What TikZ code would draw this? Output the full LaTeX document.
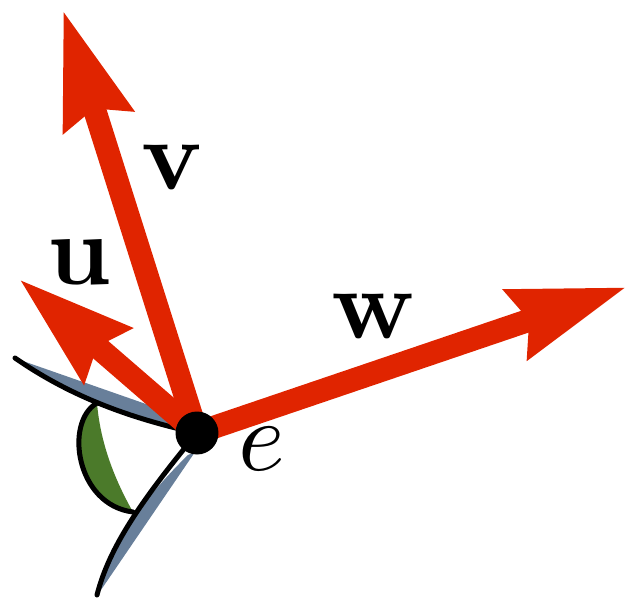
\documentclass[tikz,border=0pt]{standalone}
\usepackage{tikz}
\usetikzlibrary{arrows.meta}
\definecolor{vecred}{HTML}{E02400}
\definecolor{slate}{HTML}{687F9A}
\definecolor{leaf}{HTML}{4B7A2A}

\begin{document}
\begin{tikzpicture}[x=0.1pt,y=-0.1pt,
  vec/.style={draw=vecred,line width=2.3pt,-{Stealth[length=11.5pt,width=7pt,inset=1.2pt]}},
  rim/.style={draw=black,line width=0.5pt,line cap=round},
  dot/.style={circle,fill=black,inner sep=0pt,minimum size=4.3pt},
  lbl/.style={font=\normalsize,inner sep=1pt}]
\useasboundingbox (0,0) rectangle (627,599);
% vertex and vector ends
\coordinate (e) at (197,433);
\coordinate (vtip) at (63,10);
\coordinate (utip) at (19,279);
\coordinate (wtip) at (627,287);
% the two sheets meeting at e
\coordinate (sa) at (15,358);
\coordinate (sb) at (97,595);
\fill[slate] (sa) .. controls (67,394) and (124,417) .. (190,428) -- (186,418) -- (20,360) -- cycle;
\draw[rim] (sa) .. controls (67,394) and (124,417) .. (e);
\fill[slate] (sb) .. controls (109,548) and (140,502) .. (188,455) -- (195,452) -- (103,587) -- cycle;
\draw[rim] (sb) .. controls (109,548) and (140,502) .. (e);
% angle between the sheets
\coordinate (ga) at (97,403);
\coordinate (gb) at (133,512);
\fill[leaf] (ga) .. controls (64,422) and (76,505) .. (gb) .. controls (112,475) and (100,439) .. (ga);
\draw[rim] (ga) .. controls (64,422) and (76,505) .. (gb);
% vectors
\draw[vec] (e) -- (vtip);
\draw[vec] (e) -- (utip);
\draw[vec] (e) -- (wtip);
\node[dot] (edot) at (e) {};
% labels
\node[lbl] (vlab) at (173,167) {$\mathbf{v}$};
\node[lbl] (ulab) at (79,262) {$\mathbf{u}$};
\node[lbl] (wlab) at (374,316) {$\mathbf{w}$};
\node[lbl] (elab) at (262,449) {$e$};
\end{tikzpicture}
\end{document}
